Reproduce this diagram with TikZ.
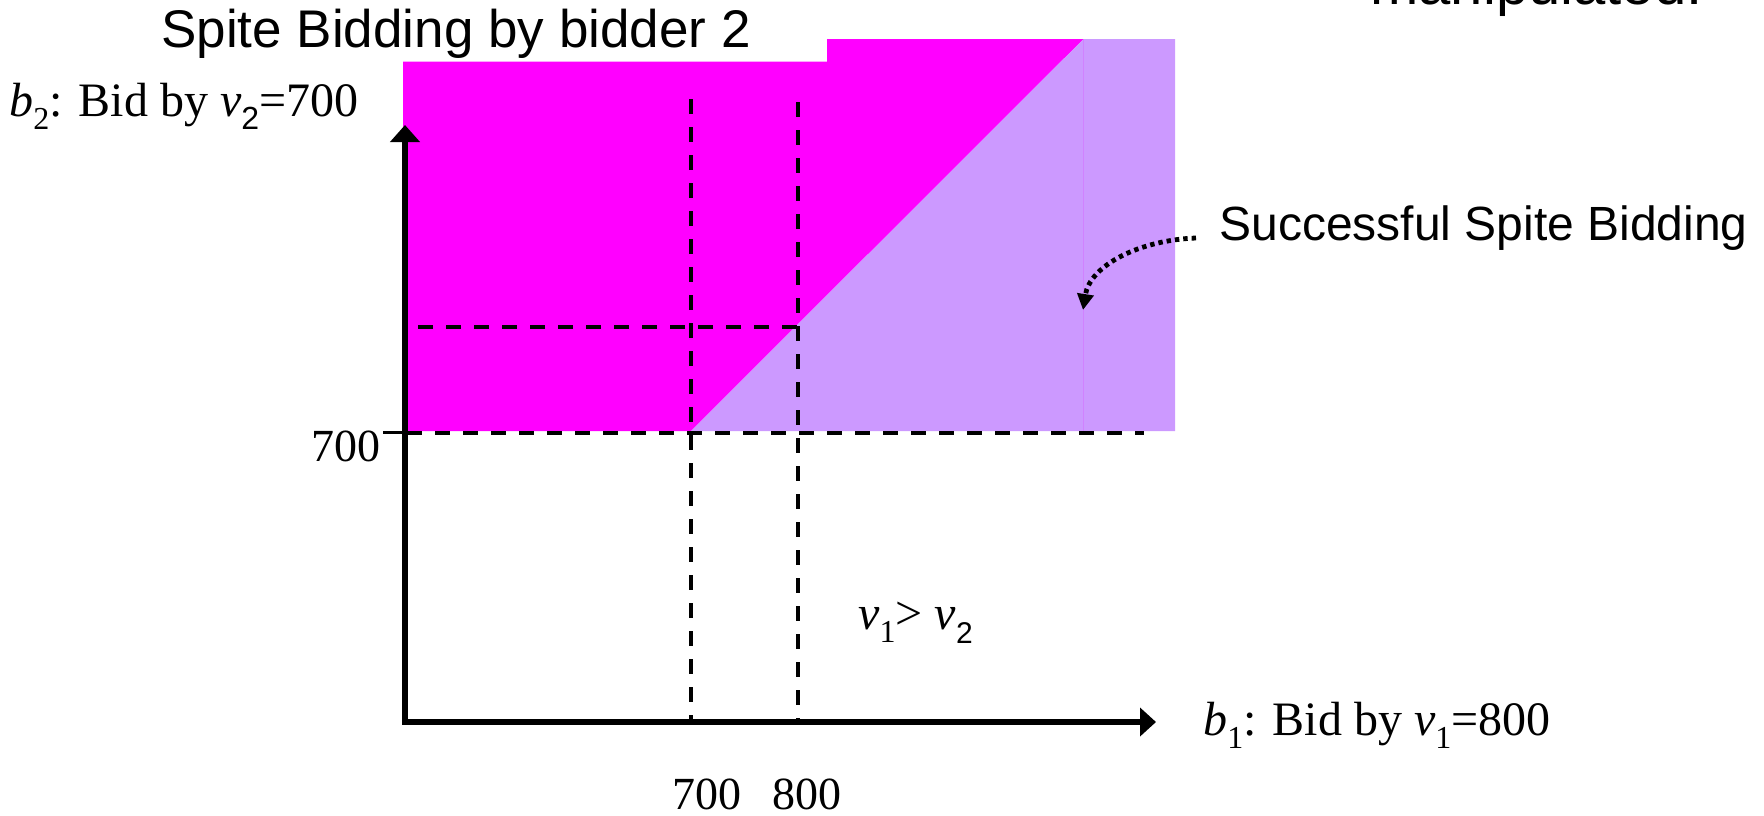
\documentclass[tikz,border=0pt]{standalone}
\usepackage{fontspec}
\setmainfont{Liberation Serif}
\newfontfamily\arialf{Liberation Sans}
\usetikzlibrary{arrows.meta}
\definecolor{mag}{RGB}{255,0,255}
\definecolor{lilac}{RGB}{204,153,255}
\definecolor{seam}{RGB}{208,130,255}
\newcommand{\sbs}[1]{\raisebox{-6.5pt}{\fontsize{16pt}{16pt}\selectfont #1}}
\tikzset{
  lbl/.style={inner sep=0pt, font=\fontsize{24pt}{28pt}\selectfont},
  numlbl/.style={inner sep=0pt, font=\fontsize{23pt}{27pt}\selectfont},
  sanslbl/.style={inner sep=0pt, font=\arialf\fontsize{24pt}{28pt}\selectfont},
  guide/.style={draw=black, line width=2pt, dash pattern=on 7.5pt off 6.5pt},
  axis/.style={draw=black, line width=2.7pt, {Triangle[length=8.5pt,width=14.5pt]}-{Triangle[length=8pt,width=14pt]}},
  pointer/.style={draw=black, line width=2.4pt, dash pattern=on 2.2pt off 2pt, -{Triangle[length=8pt,width=8pt]}}
}
\begin{document}
\begin{tikzpicture}[x=0.5pt,y=-0.5pt]
\useasboundingbox (0,0) rectangle (1764,815);
% regions
\fill[mag] (403,431) -- (403,61.7) -- (827,61.7) -- (827,39) -- (1083.5,39) -- (691,431) -- cycle;
\fill[lilac] (691,431) -- (1083.5,39) -- (1175,39) -- (1175,431) -- cycle;
\draw[seam, line width=0.8pt] (1083.5,39) -- (1083.5,431);
% coordinates
\coordinate (O) at (405,722);
\coordinate (ytip) at (405,125);
\coordinate (xtip) at (1156,722);
\coordinate (v7top) at (691,99);
\coordinate (v7bot) at (691,720);
\coordinate (v8top) at (798,102);
\coordinate (v8bot) at (798,720);
\coordinate (h8l) at (407,326.7);
\coordinate (h8r) at (797,326.7);
\coordinate (h7l) at (407,433);
\coordinate (h7r) at (1144,433);
\coordinate (tickl) at (383,432.3);
\coordinate (tickr) at (405,432.3);
% guides
\draw[guide] (v7top) -- (v7bot);
\draw[guide] (v8top) -- (v8bot);
\draw[guide] (h8r) -- (h8l);
\draw[guide] (h7l) -- (h7r);
\draw[line width=1.5pt] (tickl) -- (tickr);
% axes
\draw[axis] (ytip) |- (xtip);
% labels
\node[sanslbl, anchor=base west, font=\arialf\fontsize{26.5pt}{30pt}\selectfont] (title) at (161,47) {Spite Bidding by bidder 2};
\node[sanslbl, anchor=base west, font=\arialf\fontsize{29pt}{32pt}\selectfont] (manip) at (1370,4.5) {manipulated.};
\node[lbl, anchor=base west] (ylab) at (9,116) {\textit{b}\sbs{2}: Bid by \textit{v}{\arialf\sbs{2}}=700};
\node[lbl, anchor=base west] (xlab) at (1203,735) {\textit{b}\sbs{1}: Bid by \textit{v}\sbs{1}=800};
\node[numlbl, anchor=base east] (y700) at (381,461.7) {700};
\node[numlbl, anchor=base west] (x700) at (672,809.5) {700};
\node[numlbl, anchor=base west] (x800) at (772,809.5) {800};
\node[lbl, anchor=base west] (vrel) at (858,629) {\textit{v}\sbs{1}> \textit{v}{\arialf\fontsize{15pt}{15pt}\selectfont\raisebox{-7pt}{2}}};
\node[sanslbl, anchor=base west] (succ) at (1219,240) {Successful Spite Bidding};
\coordinate (pS) at (1196,238);
\coordinate (pE) at (1083,310);
\draw[pointer] (pS) .. controls (1140,240) and (1090,265) .. (pE);
\end{tikzpicture}
\end{document}
